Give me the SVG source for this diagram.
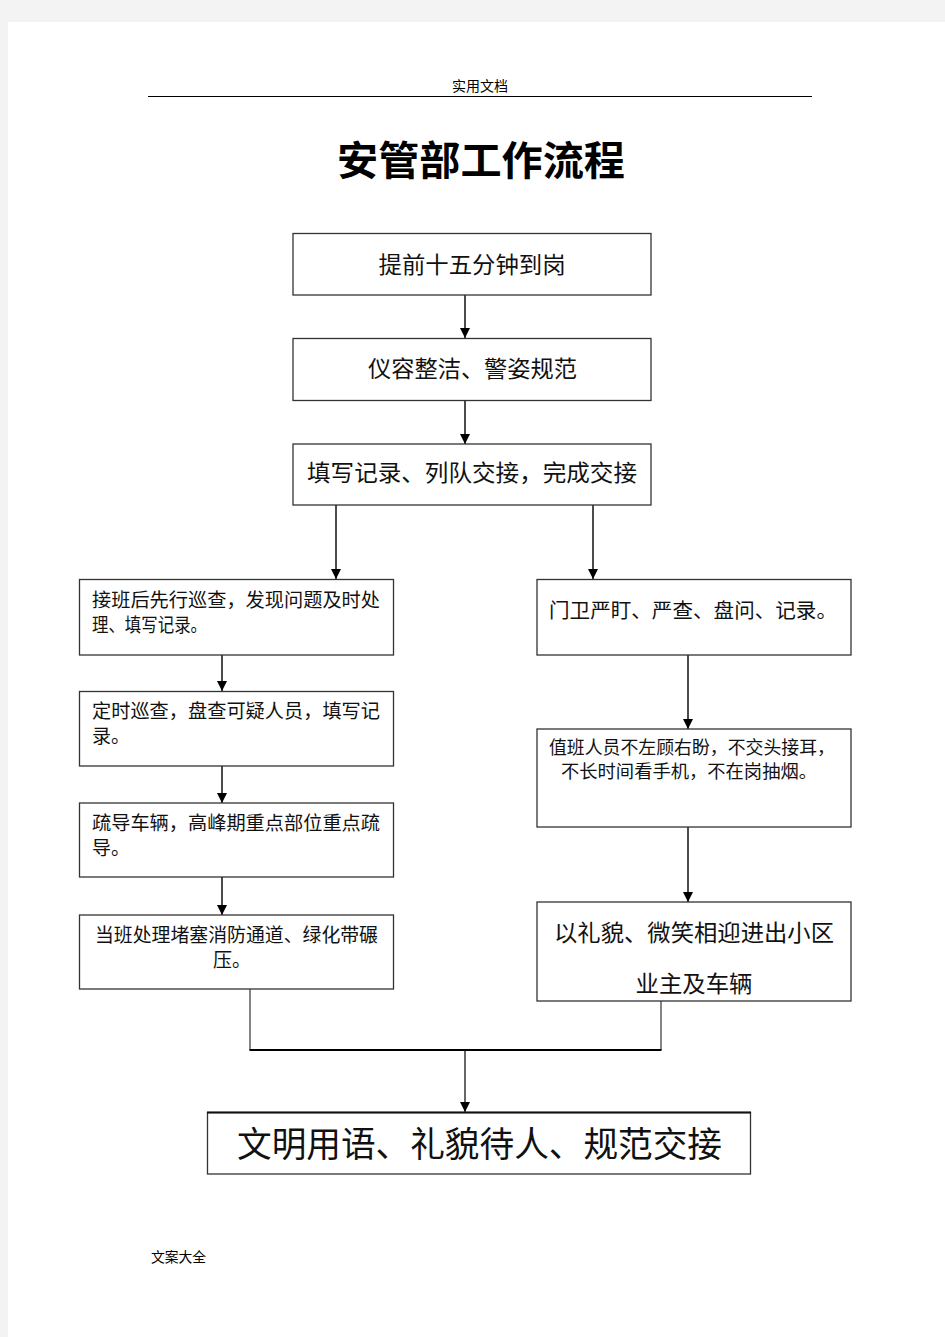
<svg xmlns="http://www.w3.org/2000/svg" width="945" height="1337" viewBox="0 0 945 1337">
<style>
.box{fill:#fff;stroke:#333;stroke-width:1.3}
.t{font-family:"Liberation Serif","Noto Sans CJK SC",serif;fill:#111;dominant-baseline:central}
.c{text-anchor:middle}
.ln{stroke:#111;stroke-width:1.5;fill:none}
.hd{font-family:"Liberation Sans","Noto Sans CJK SC",sans-serif;fill:#000;dominant-baseline:central}
</style>
<defs>
<marker id="ah" markerUnits="userSpaceOnUse" markerWidth="12" markerHeight="12" viewBox="0 0 12 12" refX="10" refY="6" orient="auto">
<path d="M0,1 L10,6 L0,11 Z" fill="#000"/>
</marker>
</defs>
<rect x="0" y="0" width="945" height="1337" fill="#f3f3f3"/>
<rect x="8" y="22" width="937" height="1315" fill="#fff"/>
<g id="header">
<text class="hd c" x="480" y="86" font-size="14">实用文档</text>
<line x1="148" y1="96.5" x2="812" y2="96.5" stroke="#000" stroke-width="1.2"/>
</g>
<g id="title">
<text class="hd c" x="481" y="161" font-size="40" font-weight="bold" textLength="288" lengthAdjust="spacingAndGlyphs">安管部工作流程</text>
</g>
<g id="connectors">
<line class="ln" x1="465" y1="295" x2="465" y2="338" marker-end="url(#ah)"/>
<line class="ln" x1="465" y1="401" x2="465" y2="444" marker-end="url(#ah)"/>
<line class="ln" x1="336" y1="505" x2="336" y2="579" marker-end="url(#ah)"/>
<line class="ln" x1="593" y1="505" x2="593" y2="579" marker-end="url(#ah)"/>
<line class="ln" x1="222" y1="655" x2="222" y2="691" marker-end="url(#ah)"/>
<line class="ln" x1="222" y1="766" x2="222" y2="803" marker-end="url(#ah)"/>
<line class="ln" x1="222" y1="877" x2="222" y2="915" marker-end="url(#ah)"/>
<line class="ln" x1="688" y1="655" x2="688" y2="729" marker-end="url(#ah)"/>
<line class="ln" x1="688" y1="827" x2="688" y2="902" marker-end="url(#ah)"/>
<line x1="250" y1="989" x2="250" y2="1050" stroke="#333" stroke-width="1.2"/>
<line x1="661" y1="1001" x2="661" y2="1050" stroke="#333" stroke-width="1.2"/>
<line x1="249.5" y1="1050" x2="661.5" y2="1050" stroke="#000" stroke-width="2"/>
<line x1="465" y1="1050" x2="465" y2="1112" stroke="#000" stroke-width="1.2" marker-end="url(#ah)"/>
</g>
<g id="n1">
<rect class="box" x="293" y="233.5" width="358" height="61.5"/>
<text class="t c" x="472" y="265" font-size="23" textLength="187" lengthAdjust="spacingAndGlyphs">提前十五分钟到岗</text>
</g>
<g id="n2">
<rect class="box" x="293" y="338.5" width="358" height="62"/>
<text class="t c" x="472.5" y="369" font-size="23" textLength="209" lengthAdjust="spacingAndGlyphs">仪容整洁、警姿规范</text>
</g>
<g id="n3">
<rect class="box" x="293" y="444" width="358" height="61"/>
<text class="t c" x="472" y="473" font-size="23" textLength="330" lengthAdjust="spacingAndGlyphs">填写记录、列队交接，完成交接</text>
</g>
<g id="n4">
<rect class="box" x="79.5" y="579.5" width="314" height="75.5"/>
<text class="t" x="92" y="600" font-size="19" textLength="288" lengthAdjust="spacingAndGlyphs">接班后先行巡查，发现问题及时处</text>
<text class="t" x="92" y="625" font-size="19" textLength="115" lengthAdjust="spacingAndGlyphs">理、填写记录。</text>
</g>
<g id="n5">
<rect class="box" x="79.5" y="691.5" width="314" height="74.5"/>
<text class="t" x="92" y="711" font-size="19" textLength="288" lengthAdjust="spacingAndGlyphs">定时巡查，盘查可疑人员，填写记</text>
<text class="t" x="92" y="736" font-size="19" textLength="38" lengthAdjust="spacingAndGlyphs">录。</text>
</g>
<g id="n6">
<rect class="box" x="79.5" y="803" width="314" height="74"/>
<text class="t" x="92" y="823" font-size="19" textLength="288" lengthAdjust="spacingAndGlyphs">疏导车辆，高峰期重点部位重点疏</text>
<text class="t" x="92" y="848" font-size="19" textLength="38" lengthAdjust="spacingAndGlyphs">导。</text>
</g>
<g id="n7">
<rect class="box" x="79.5" y="915" width="314" height="74"/>
<text class="t c" x="236.5" y="935" font-size="19" textLength="283" lengthAdjust="spacingAndGlyphs">当班处理堵塞消防通道、绿化带碾</text>
<text class="t c" x="232" y="960" font-size="19" textLength="38" lengthAdjust="spacingAndGlyphs">压。</text>
</g>
<g id="n8">
<rect class="box" x="537" y="579.5" width="314" height="75.5"/>
<text class="t c" x="693" y="611" font-size="20.5" textLength="288" lengthAdjust="spacingAndGlyphs">门卫严盯、严查、盘问、记录。</text>
</g>
<g id="n9">
<rect class="box" x="537" y="729" width="314" height="98"/>
<text class="t c" x="692" y="748" font-size="18" textLength="286" lengthAdjust="spacingAndGlyphs">值班人员不左顾右盼，不交头接耳，</text>
<text class="t c" x="689" y="772" font-size="18" textLength="256" lengthAdjust="spacingAndGlyphs">不长时间看手机，不在岗抽烟。</text>
</g>
<g id="n10">
<rect class="box" x="537" y="902" width="314" height="99"/>
<text class="t c" x="694" y="933" font-size="23" textLength="280" lengthAdjust="spacingAndGlyphs">以礼貌、微笑相迎进出小区</text>
<text class="t c" x="694" y="984" font-size="23" textLength="117" lengthAdjust="spacingAndGlyphs">业主及车辆</text>
</g>
<g id="n11">
<rect class="box" x="207.5" y="1112.5" width="543" height="61.5"/>
<line x1="207" y1="1112.5" x2="751" y2="1112.5" stroke="#111" stroke-width="2"/>
<text class="t c" x="479.5" y="1145" font-size="35" textLength="485" lengthAdjust="spacingAndGlyphs">文明用语、礼貌待人、规范交接</text>
</g>
<g id="footer">
<text class="hd" x="151" y="1257" font-size="14" textLength="55" lengthAdjust="spacingAndGlyphs">文案大全</text>
</g>
</svg>
